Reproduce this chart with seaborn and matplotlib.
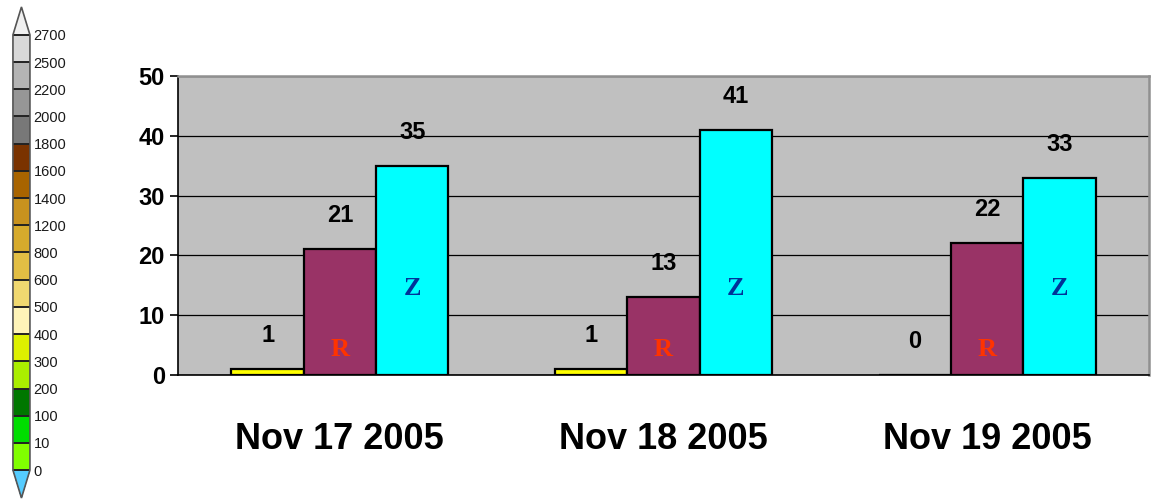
import numpy as np
import pandas as pd
import matplotlib
matplotlib.use("Agg")
import matplotlib as mpl
import matplotlib.pyplot as plt
from matplotlib.colors import ListedColormap, BoundaryNorm
import seaborn as sns

# ---- data -------------------------------------------------------------
dates = ["Nov 17 2005", "Nov 18 2005", "Nov 19 2005"]
series = ["Y", "R", "Z"]
y_counts = [1, 1, 0]
r_counts = [21, 13, 22]
z_counts = [35, 41, 33]
bar_letters = ["", "R", "Z"]
y_ticks = [0, 10, 20, 30, 40, 50]

# colour scale shown on the left
levels = [0, 10, 100, 200, 300, 400, 500, 600, 800, 1200, 1400,
          1600, 1800, 2000, 2200, 2500, 2700]
level_colors = ["#80FF00", "#00DD00", "#007700", "#AAEE00", "#DDF000",
                "#FFF4B8", "#F0D870", "#E2BE44", "#D6AA2C", "#C8921E",
                "#A86400", "#7A3300", "#787878", "#969696", "#B4B4B4",
                "#D8D8D8"]
under_color = "#55CCFF"
over_color = "#F0F0F0"

bar_colors = ["#FFFF00", "#993366", "#00FFFF"]
letter_colors = {"R": "#FF3300", "Z": "#003399"}

df = pd.DataFrame({
    "date": np.repeat(dates, len(series)),
    "series": series * len(dates),
    "count": [v for trio in zip(y_counts, r_counts, z_counts) for v in trio],
})

# ---- figure -----------------------------------------------------------
sns.set_style("white")
plt.rcParams["font.family"] = ["Liberation Sans", "DejaVu Sans"]
plt.rcParams["text.color"] = "black"
plt.rcParams["xtick.color"] = "black"
plt.rcParams["ytick.color"] = "black"

fig = plt.figure(figsize=(11.56, 4.99), dpi=100)
ax = fig.add_axes([0.154, 0.2485, 0.840, 0.5992])

sns.barplot(data=df, x="date", y="count", hue="series", order=dates,
            hue_order=series, palette=bar_colors, width=0.67,
            edgecolor="black", linewidth=1.6, legend=False, ax=ax,
            saturation=1, zorder=3)

ax.set_facecolor("#C0C0C0")
ax.set_xlim(-0.5, 2.5)
ax.set_ylim(0, 50)
ax.set_yticks(y_ticks)
ax.set_yticklabels([str(t) for t in y_ticks], fontsize=17, fontweight="bold",
                   color="black")
ax.yaxis.grid(True, color="black", linewidth=0.9, zorder=1)
ax.set_axisbelow(True)
ax.set_xlabel("")
ax.set_ylabel("")

ax.set_xticks(range(len(dates)))
ax.set_xticklabels(dates, fontsize=26, fontweight="bold", color="black")
ax.set_xticks([-0.5, 0.5, 1.5, 2.5], minor=True)
ax.tick_params(axis="x", which="major", length=0, pad=34)
ax.tick_params(axis="x", which="minor", length=9, width=1.2, color="#666666")
ax.tick_params(axis="y", which="major", length=6, width=1.2, color="black",
               pad=3.5, left=True)

for side in ("top", "right"):
    ax.spines[side].set_color("#909090")
    ax.spines[side].set_linewidth(1.8)
for side in ("left", "bottom"):
    ax.spines[side].set_color("black")
    ax.spines[side].set_linewidth(1.2)

# value labels above bars and series letters inside bars
for s_idx, cont in enumerate(ax.containers):
    for patch in cont.patches:
        cx = patch.get_x() + patch.get_width() / 2
        h = patch.get_height()
        ax.text(cx, h + 5.6, f"{int(round(h))}", ha="center", va="center",
                fontsize=17, fontweight="bold", color="black", zorder=5)
        letter = bar_letters[s_idx]
        if letter:
            ly = 4.2 if letter == "R" else 14.5
            ax.text(cx, ly, letter, ha="center", va="center",
                    fontsize=19, fontweight="bold", family="Liberation Serif",
                    color=letter_colors[letter], zorder=5)

# ---- colour scale -----------------------------------------------------
cmap = ListedColormap(level_colors)
cmap.set_under(under_color)
cmap.set_over(over_color)
norm = BoundaryNorm(levels, cmap.N)
cax = fig.add_axes([0.0112, 0.002, 0.0147, 0.984])
cb = fig.colorbar(mpl.cm.ScalarMappable(norm=norm, cmap=cmap), cax=cax,
                  extend="both", extendfrac=0.064, spacing="uniform",
                  ticks=levels, drawedges=True)
cb.outline.set_edgecolor("#555555")
cb.outline.set_linewidth(1.2)
cb.dividers.set_color("#222222")
cb.dividers.set_linewidth(1.4)
cb.ax.tick_params(length=0, pad=2.5, labelsize=10.5, labelcolor="#1a1a1a")

fig.savefig("out.png", dpi=100)
